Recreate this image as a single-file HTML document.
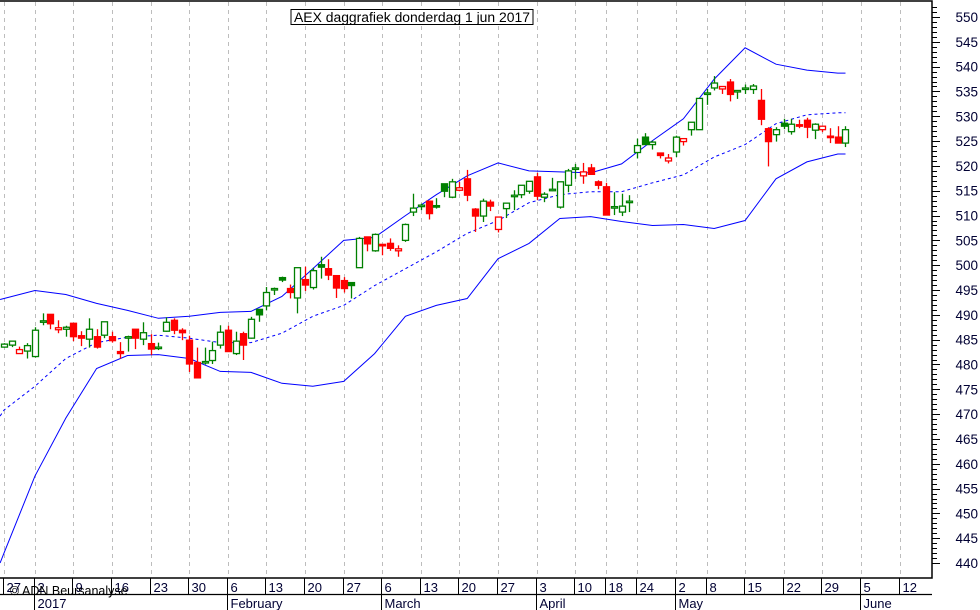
<!DOCTYPE html>
<html><head><meta charset="utf-8"><style>
html,body{margin:0;padding:0;background:#fff;}
svg{display:block;font-family:"Liberation Sans",sans-serif;}
</style></head><body>
<svg id="chart" width="980" height="610" viewBox="0 0 980 610" xmlns="http://www.w3.org/2000/svg">
<rect x="0" y="0" width="980" height="610" fill="#fff"/>
<g id="grid"></g>
<g id="bands"></g>
<g id="candles"></g>
<g id="axes"></g>
<g>
<rect x="291" y="9.5" width="242" height="15" fill="#fff" stroke="#000" stroke-width="1"/>
<text x="412" y="22" text-anchor="middle" font-size="13.5" textLength="236" lengthAdjust="spacingAndGlyphs" fill="#000">AEX daggrafiek donderdag 1 jun 2017</text>
</g>
<text x="10" y="595" font-size="12.5" fill="#000">© ADN Beursanalyse</text>
</svg>
<script>
// ---- data ----
const opens  = [483.5,483.9,482.2,482.7,481.6,488.6,490.1,487.0,487.1,488.3,485.8,485.1,485.6,485.9,485.6,482.6,485.4,487.1,485.1,484.2,483.3,486.7,488.9,486.9,484.9,480.4,480.4,480.8,483.9,486.9,482.2,486.2,485.3,491.1,491.8,495.0,497.5,495.3,493.4,497.1,495.5,500.1,499.3,497.9,496.9,496.5,499.5,505.7,502.9,504.2,504.4,502.9,505.0,510.7,512.0,512.9,512.0,516.4,513.7,515.1,517.4,511.3,509.9,512.7,507.2,511.4,514.0,514.2,514.9,517.8,513.7,515.2,511.7,516.1,519.5,518.0,519.6,516.8,515.8,511.7,510.7,512.8,522.7,525.8,524.3,522.6,521.0,522.8,524.9,527.3,527.3,534.5,535.7,535.5,536.9,535.1,535.6,535.4,533.2,527.5,526.3,528.6,526.9,528.3,529.2,527.2,527.3,526.0,525.8,524.6];
const highs  = [484.3,484.8,483.6,484.3,487.5,490.3,490.1,488.9,487.8,488.3,486.7,489.3,487.1,488.6,486.6,484.5,485.8,487.1,488.5,486.1,484.4,489.5,489.3,487.3,485.8,483.4,483.4,484.6,487.9,487.8,486.6,486.6,489.6,491.2,495.6,495.5,497.7,496.1,499.5,499.7,499.5,501.7,501.2,497.9,497.6,496.5,505.7,505.7,506.4,504.2,505.4,504.0,508.4,514.4,512.4,512.9,513.5,516.4,517.4,516.8,519.2,511.5,513.4,513.2,509.7,512.5,515.1,516.1,516.9,518.6,514.7,517.6,516.8,519.4,520.4,520.6,520.4,517.1,516.6,514.7,514.4,514.1,525.5,526.6,525.1,522.6,522.4,526.1,525.5,528.8,533.6,535.5,538.1,536.0,537.5,535.2,536.4,536.5,535.5,527.8,527.8,529.5,529.5,529.3,529.7,528.6,528.0,527.6,528.0,528.0];
const lows   = [483.4,483.5,482.2,481.2,481.4,487.9,487.1,486.3,485.6,484.7,483.7,483.4,483.2,485.3,484.4,481.2,482.6,483.1,483.9,481.9,482.9,486.6,486.1,484.9,478.5,477.3,480.0,480.1,483.2,482.6,481.9,480.9,485.2,488.6,490.9,494.0,496.6,493.3,490.3,494.8,495.1,497.3,497.0,493.4,494.5,493.3,499.5,502.8,502.7,502.0,502.9,501.7,504.7,509.9,511.1,509.2,511.4,513.7,513.5,514.9,512.9,506.7,508.7,510.9,506.6,509.5,511.1,513.5,514.4,513.1,512.7,514.9,511.4,514.7,517.4,516.4,518.3,515.3,510.1,510.1,509.9,510.7,521.5,524.3,523.3,521.5,520.5,521.8,524.1,526.1,527.3,532.3,535.2,534.5,533.0,533.5,534.5,534.5,528.2,519.9,524.9,527.4,526.3,527.6,525.6,525.4,526.8,524.6,524.6,523.8];
const closes = [484.1,484.7,483.0,483.8,486.9,488.8,488.2,487.4,487.5,485.6,485.3,487.1,483.5,488.6,484.8,482.2,485.6,485.3,486.4,483.1,483.5,488.5,486.9,486.4,480.1,477.3,480.6,482.8,486.5,482.6,484.7,483.9,489.1,490.0,494.5,495.3,497.0,494.5,499.5,496.0,498.9,499.6,498.0,495.4,495.3,495.9,505.4,504.3,506.2,504.1,503.4,503.3,508.2,511.5,512.1,510.4,511.7,514.9,516.8,515.6,514.1,509.9,512.9,511.9,509.7,512.5,514.1,516.1,516.9,513.9,514.3,515.3,516.8,519.0,519.6,518.8,518.3,516.1,510.1,511.8,511.9,512.9,524.1,524.3,524.8,522.1,521.6,525.8,525.5,528.8,533.6,534.7,536.7,536.0,534.4,535.2,535.7,536.1,529.4,524.9,527.3,528.0,528.4,528.2,527.8,528.4,528.0,525.9,524.6,527.3];
const prevClose0 = 484.0;
// Bollinger band readings at trading-day positions
const bandIdx   = [-0.5,0,4,8,12,16,20,24,28,32,36,40,44,48,52,56,60,64,68,72,76,80,84,88,92,96,100,104,108,109];
const bandUpper = [493.1,493.3,494.9,494.1,492.3,490.9,489.3,489.7,490.5,490.7,493.7,499.3,505.0,505.6,510.0,514.2,518.0,520.6,519.0,518.8,518.6,520.4,525.1,529.5,537.5,543.8,540.5,539.3,538.7,538.7];
const bandMid   = [469.6,470.8,475.6,481.2,484.4,485.5,485.9,485.3,484.4,484.4,486.3,489.7,491.9,495.9,499.3,502.7,506.4,509.0,512.6,514.2,514.8,514.8,516.6,518.2,521.8,524.3,528.5,530.3,530.7,530.7];
const bandLower = [440.0,442.0,457.5,469.2,479.2,481.8,482.0,481.2,478.6,478.4,476.2,475.6,476.6,482.2,489.7,491.9,493.3,501.3,504.4,509.4,509.8,508.8,508.0,508.2,507.4,509.0,517.4,520.8,522.4,522.4];
// axis labels
const yTicks = [550,545,540,535,530,525,520,515,510,505,500,495,490,485,480,475,470,465,460,455,450,445,440];
const dayTickIdx = [0,4,9,14,19,24,29,34,39,44,49,54,59,64,69,74,78,82,87,91,96,101,106,111,116];
const dayTickLabels = ["27","2","9","16","23","30","6","13","20","27","6","13","20","27","3","10","18","24","2","8","15","22","29","5","12"];
const monthIdx = [4,29,49,69,87,111];
const monthLabels = ["2017","February","March","April","May","June"];

// ---- scales ----
const PLOT_R = 932, PLOT_B = 578;
function xs(i){ return 4 + i*7.72; }
function ys(v){ return 17 + (550 - v)*4.964; }
const NS = "http://www.w3.org/2000/svg";
function mk(tag, attrs, parent){ const e=document.createElementNS(NS,tag); for(const k in attrs) e.setAttribute(k,attrs[k]); parent.appendChild(e); return e; }

const grid = document.getElementById('grid');
const axes = document.getElementById('axes');
const bandsG = document.getElementById('bands');
const candlesG = document.getElementById('candles');

// grid lines
dayTickIdx.forEach((d,k)=>{
  const x = Math.round(xs(d))+0.5;
  if (x > PLOT_R) return;
  const l = mk('line',{x1:x,y1:2,x2:x,y2:PLOT_B,stroke:'#bdbdbd','stroke-width':1,'stroke-dasharray':'4,4'},grid);
  
  
});

// bands
function bandPath(vals, dash, name){
  let d='';
  vals.forEach((v,k)=>{ d += (k?'L':'M') + Math.max(0,xs(bandIdx[k])).toFixed(1)+','+ys(v).toFixed(1); });
  const p = mk('path',{d:d,fill:'none',stroke:'#0000ff','stroke-width':1},bandsG);
  if (dash) p.setAttribute('stroke-dasharray','3,3');
  
  
}
bandPath(bandUpper,false,'upper-band');
bandPath(bandMid,true,'middle-band');
bandPath(bandLower,false,'lower-band');

// candles
closes.forEach((c,i)=>{
  const o=opens[i], h=highs[i], l=lows[i];
  const pc = i===0 ? prevClose0 : closes[i-1];
  const col = c >= pc ? '#008000' : '#ff0000';
  const x = Math.round(xs(i));
  const g = mk('g',{},candlesG);
  
  
  const w = mk('line',{x1:x+0.5,y1:ys(h),x2:x+0.5,y2:ys(l),stroke:col,'stroke-width':1.3},g);
  
  
  const top = ys(Math.max(o,c)), bot = ys(Math.min(o,c));
  const hgt = Math.max(1.5, bot-top);
  const filled = c < o;
  const r = mk('rect',{x:x-2.5,y:top,width:6,height:hgt,fill:filled?col:'#fff',stroke:col,'stroke-width':1.3},g);
  
  
});

// axes frame
const frame = mk('path',{d:'M0,1H'+PLOT_R+'V'+PLOT_B+'H0',fill:'none',stroke:'#000','stroke-width':1.5},axes);


const dateLine = mk('line',{x1:0,y1:594.5,x2:PLOT_R,y2:594.5,stroke:'#000','stroke-width':1.3},axes);



// y ticks
for (let v=440; v<=552; v++){
  const y = Math.round(ys(v))+0.5;
  const major = v%5===0;
  const t = mk('line',{x1:PLOT_R,y1:y,x2:PLOT_R+(major?8:5),y2:y,stroke:'#000','stroke-width':1},axes);
  
  
}
yTicks.forEach(v=>{
  const t = mk('text',{x:978,y:ys(v)+5,'text-anchor':'end','font-size':13.5,fill:'#000033'},axes);
  t.textContent = String(v);
  
  
});

// x ticks
dayTickIdx.forEach((d,k)=>{
  const x = Math.round(xs(d))-0.5;
  const s = mk('line',{x1:x,y1:PLOT_B,x2:x,y2:594,stroke:'#000','stroke-width':1},axes);
  
  
  const t = mk('text',{x:x+3,y:592,'font-size':13,fill:'#000033'},axes);
  t.textContent = dayTickLabels[k];
  
  
});
monthIdx.forEach((d,k)=>{
  const x = Math.round(xs(d))-0.5;
  const s = mk('line',{x1:x,y1:594,x2:x,y2:610,stroke:'#000','stroke-width':1},axes);
  
  
  const t = mk('text',{x:x+3,y:608,'font-size':13,fill:'#000033'},axes);
  t.textContent = monthLabels[k];
  
  
});
</script>
</body></html>
